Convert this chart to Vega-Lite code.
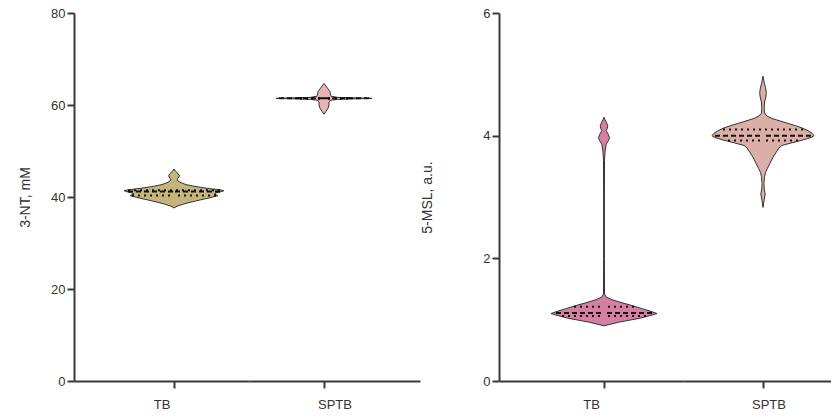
{
  "$schema": "https://vega.github.io/schema/vega-lite/v6.json",
  "padding": {"left": 18, "top": 7, "right": 0, "bottom": 0},
  "config": {
    "view": {"stroke": null},
    "font": "Liberation Sans",
    "axis": {"domainColor": "#3a3a3a", "domainWidth": 2, "tickColor": "#3a3a3a", "tickWidth": 2, "tickSize": 7, "labelFontSize": 13, "labelColor": "#333", "titleFontSize": 14, "titleFontWeight": "normal", "titleColor": "#333", "grid": false}
  },
  "datasets": {
    "shapes": [
      {"panel": "L", "group": "TB", "value": 37.6, "density": 0},
      {"panel": "L", "group": "TB", "value": 38.0, "density": 3},
      {"panel": "L", "group": "TB", "value": 38.5, "density": 10},
      {"panel": "L", "group": "TB", "value": 39.0, "density": 19},
      {"panel": "L", "group": "TB", "value": 39.5, "density": 29},
      {"panel": "L", "group": "TB", "value": 39.9, "density": 37},
      {"panel": "L", "group": "TB", "value": 40.3, "density": 44},
      {"panel": "L", "group": "TB", "value": 40.65, "density": 40},
      {"panel": "L", "group": "TB", "value": 40.95, "density": 43},
      {"panel": "L", "group": "TB", "value": 41.2, "density": 48},
      {"panel": "L", "group": "TB", "value": 41.4, "density": 50},
      {"panel": "L", "group": "TB", "value": 41.6, "density": 44},
      {"panel": "L", "group": "TB", "value": 41.9, "density": 33},
      {"panel": "L", "group": "TB", "value": 42.3, "density": 21},
      {"panel": "L", "group": "TB", "value": 42.7, "density": 12},
      {"panel": "L", "group": "TB", "value": 43.2, "density": 6},
      {"panel": "L", "group": "TB", "value": 43.7, "density": 3},
      {"panel": "L", "group": "TB", "value": 44.1, "density": 4},
      {"panel": "L", "group": "TB", "value": 44.6, "density": 5.5},
      {"panel": "L", "group": "TB", "value": 45.1, "density": 4},
      {"panel": "L", "group": "TB", "value": 45.6, "density": 1.5},
      {"panel": "L", "group": "TB", "value": 46.1, "density": 0},
      {"panel": "L", "group": "SPTB", "value": 58.0, "density": 0},
      {"panel": "L", "group": "SPTB", "value": 58.6, "density": 2},
      {"panel": "L", "group": "SPTB", "value": 59.3, "density": 4},
      {"panel": "L", "group": "SPTB", "value": 60.0, "density": 5},
      {"panel": "L", "group": "SPTB", "value": 60.6, "density": 5},
      {"panel": "L", "group": "SPTB", "value": 61.0, "density": 6},
      {"panel": "L", "group": "SPTB", "value": 61.25, "density": 14},
      {"panel": "L", "group": "SPTB", "value": 61.45, "density": 48},
      {"panel": "L", "group": "SPTB", "value": 61.65, "density": 14},
      {"panel": "L", "group": "SPTB", "value": 61.9, "density": 7},
      {"panel": "L", "group": "SPTB", "value": 62.4, "density": 6.5},
      {"panel": "L", "group": "SPTB", "value": 62.9, "density": 6},
      {"panel": "L", "group": "SPTB", "value": 63.5, "density": 4},
      {"panel": "L", "group": "SPTB", "value": 64.1, "density": 2},
      {"panel": "L", "group": "SPTB", "value": 64.7, "density": 0},
      {"panel": "R", "group": "TB", "value": 0.90, "density": 0},
      {"panel": "R", "group": "TB", "value": 0.96, "density": 15},
      {"panel": "R", "group": "TB", "value": 1.02, "density": 35},
      {"panel": "R", "group": "TB", "value": 1.07, "density": 47},
      {"panel": "R", "group": "TB", "value": 1.10, "density": 53},
      {"panel": "R", "group": "TB", "value": 1.14, "density": 46},
      {"panel": "R", "group": "TB", "value": 1.18, "density": 38},
      {"panel": "R", "group": "TB", "value": 1.23, "density": 28},
      {"panel": "R", "group": "TB", "value": 1.28, "density": 17},
      {"panel": "R", "group": "TB", "value": 1.32, "density": 9},
      {"panel": "R", "group": "TB", "value": 1.37, "density": 2},
      {"panel": "R", "group": "TB", "value": 1.42, "density": 0.5},
      {"panel": "R", "group": "TB", "value": 2.0, "density": 0.4},
      {"panel": "R", "group": "TB", "value": 3.0, "density": 0.4},
      {"panel": "R", "group": "TB", "value": 3.6, "density": 0.5},
      {"panel": "R", "group": "TB", "value": 3.75, "density": 1.1},
      {"panel": "R", "group": "TB", "value": 3.86, "density": 2.2},
      {"panel": "R", "group": "TB", "value": 3.92, "density": 4.5},
      {"panel": "R", "group": "TB", "value": 3.97, "density": 5.5},
      {"panel": "R", "group": "TB", "value": 4.03, "density": 4},
      {"panel": "R", "group": "TB", "value": 4.08, "density": 2.2},
      {"panel": "R", "group": "TB", "value": 4.12, "density": 3.3},
      {"panel": "R", "group": "TB", "value": 4.16, "density": 3.8},
      {"panel": "R", "group": "TB", "value": 4.21, "density": 2.6},
      {"panel": "R", "group": "TB", "value": 4.26, "density": 1},
      {"panel": "R", "group": "TB", "value": 4.30, "density": 0},
      {"panel": "R", "group": "SPTB", "value": 2.83, "density": 0},
      {"panel": "R", "group": "SPTB", "value": 2.94, "density": 1},
      {"panel": "R", "group": "SPTB", "value": 3.05, "density": 2.2},
      {"panel": "R", "group": "SPTB", "value": 3.13, "density": 1.2},
      {"panel": "R", "group": "SPTB", "value": 3.22, "density": 1},
      {"panel": "R", "group": "SPTB", "value": 3.33, "density": 1.5},
      {"panel": "R", "group": "SPTB", "value": 3.40, "density": 2.5},
      {"panel": "R", "group": "SPTB", "value": 3.47, "density": 4.5},
      {"panel": "R", "group": "SPTB", "value": 3.55, "density": 7},
      {"panel": "R", "group": "SPTB", "value": 3.65, "density": 10},
      {"panel": "R", "group": "SPTB", "value": 3.75, "density": 14},
      {"panel": "R", "group": "SPTB", "value": 3.80, "density": 16},
      {"panel": "R", "group": "SPTB", "value": 3.84, "density": 19},
      {"panel": "R", "group": "SPTB", "value": 3.88, "density": 28},
      {"panel": "R", "group": "SPTB", "value": 3.93, "density": 40},
      {"panel": "R", "group": "SPTB", "value": 3.97, "density": 48},
      {"panel": "R", "group": "SPTB", "value": 4.00, "density": 51},
      {"panel": "R", "group": "SPTB", "value": 4.04, "density": 49},
      {"panel": "R", "group": "SPTB", "value": 4.08, "density": 45},
      {"panel": "R", "group": "SPTB", "value": 4.12, "density": 40},
      {"panel": "R", "group": "SPTB", "value": 4.16, "density": 33},
      {"panel": "R", "group": "SPTB", "value": 4.20, "density": 25},
      {"panel": "R", "group": "SPTB", "value": 4.24, "density": 17},
      {"panel": "R", "group": "SPTB", "value": 4.28, "density": 9},
      {"panel": "R", "group": "SPTB", "value": 4.32, "density": 4},
      {"panel": "R", "group": "SPTB", "value": 4.37, "density": 1.5},
      {"panel": "R", "group": "SPTB", "value": 4.46, "density": 1.2},
      {"panel": "R", "group": "SPTB", "value": 4.55, "density": 1.6},
      {"panel": "R", "group": "SPTB", "value": 4.63, "density": 2.8},
      {"panel": "R", "group": "SPTB", "value": 4.70, "density": 3.3},
      {"panel": "R", "group": "SPTB", "value": 4.78, "density": 2.6},
      {"panel": "R", "group": "SPTB", "value": 4.86, "density": 1.3},
      {"panel": "R", "group": "SPTB", "value": 4.97, "density": 0}
    ],
    "stats": [
      {"panel": "L", "group": "TB", "stat": "median", "value": 41.2, "density": 46},
      {"panel": "L", "group": "TB", "stat": "quartile", "value": 41.45, "density": 46},
      {"panel": "L", "group": "TB", "stat": "quartile", "value": 40.3, "density": 42},
      {"panel": "L", "group": "SPTB", "stat": "median", "value": 61.45, "density": 45},
      {"panel": "L", "group": "SPTB", "stat": "quartile", "value": 61.38, "density": 24},
      {"panel": "L", "group": "SPTB", "stat": "quartile", "value": 61.52, "density": 24},
      {"panel": "R", "group": "TB", "stat": "median", "value": 1.11, "density": 48},
      {"panel": "R", "group": "TB", "stat": "quartile", "value": 1.21, "density": 30},
      {"panel": "R", "group": "TB", "stat": "quartile", "value": 1.06, "density": 42},
      {"panel": "R", "group": "SPTB", "stat": "median", "value": 4.0, "density": 48},
      {"panel": "R", "group": "SPTB", "stat": "quartile", "value": 4.10, "density": 40},
      {"panel": "R", "group": "SPTB", "stat": "quartile", "value": 3.92, "density": 35}
    ]
  },
  "spacing": 0,
  "hconcat": [
    {
      "spacing": 0,
      "hconcat": [
        {
          "width": 175, "height": 368,
          "encoding": {"y": {"field": "value", "type": "quantitative", "scale": {"domain": [0, 80]}, "axis": {"values": [0, 20, 40, 60, 80], "title": "3-NT, mM", "titlePadding": 18}}},
          "layer": [
            {"data": {"name": "shapes"}, "transform": [{"filter": "datum.panel == 'L' && datum.group == 'TB'"}],
             "mark": {"type": "area", "orient": "horizontal", "color": "#c4b57d"},
             "encoding": {"x": {"field": "density", "type": "quantitative", "scale": {"domain": [-100, 75]}, "axis": {"values": [0], "labels": false, "title": "TB", "titleFontSize": 13, "titlePadding": 9}}, "x2": {"datum": 0}}},
            {"data": {"name": "shapes"}, "transform": [{"filter": "datum.panel == 'L' && datum.group == 'TB'"}],
             "mark": {"type": "area", "orient": "horizontal", "color": "#c4b57d"},
             "encoding": {"x": {"field": "density", "type": "quantitative", "scale": {"domain": [-75, 100], "reverse": true}, "axis": null}, "x2": {"datum": 0}}},
            {"data": {"name": "shapes"}, "transform": [{"filter": "datum.panel == 'L' && datum.group == 'TB'"}],
             "mark": {"type": "line", "color": "#333", "strokeWidth": 1},
             "encoding": {"x": {"field": "density", "type": "quantitative", "scale": {"domain": [-100, 75]}, "axis": null}, "order": {"field": "value", "type": "quantitative"}}},
            {"data": {"name": "shapes"}, "transform": [{"filter": "datum.panel == 'L' && datum.group == 'TB'"}],
             "mark": {"type": "line", "color": "#333", "strokeWidth": 1},
             "encoding": {"x": {"field": "density", "type": "quantitative", "scale": {"domain": [-75, 100], "reverse": true}, "axis": null}, "order": {"field": "value", "type": "quantitative"}}},
            {"data": {"name": "stats"}, "transform": [{"filter": "datum.panel == 'L' && datum.group == 'TB'"}],
             "mark": {"type": "rule", "color": "#111", "strokeWidth": 2},
             "encoding": {"x": {"field": "density", "type": "quantitative", "scale": {"domain": [-100, 75]}, "axis": null}, "x2": {"datum": 0},
               "strokeDash": {"field": "stat", "type": "nominal", "scale": {"domain": ["median", "quartile"], "range": [[5, 3], [2, 4]]}, "legend": null}}},
            {"data": {"name": "stats"}, "transform": [{"filter": "datum.panel == 'L' && datum.group == 'TB'"}],
             "mark": {"type": "rule", "color": "#111", "strokeWidth": 2},
             "encoding": {"x": {"field": "density", "type": "quantitative", "scale": {"domain": [-75, 100], "reverse": true}, "axis": null}, "x2": {"datum": 0},
               "strokeDash": {"field": "stat", "type": "nominal", "scale": {"domain": ["median", "quartile"], "range": [[5, 3], [2, 4]]}, "legend": null}}}
          ],
          "resolve": {"scale": {"x": "independent"}, "axis": {"x": "independent"}}
        },
        {
          "width": 171, "height": 368,
          "encoding": {"y": {"field": "value", "type": "quantitative", "scale": {"domain": [0, 80]}, "axis": null}},
          "layer": [
            {"data": {"name": "shapes"}, "transform": [{"filter": "datum.panel == 'L' && datum.group == 'SPTB'"}],
             "mark": {"type": "area", "orient": "horizontal", "color": "#e6b5b4"},
             "encoding": {"x": {"field": "density", "type": "quantitative", "scale": {"domain": [-75, 96]}, "axis": {"values": [0], "labels": false, "title": "SPTB", "titleFontSize": 13, "titlePadding": 9}}, "x2": {"datum": 0}}},
            {"data": {"name": "shapes"}, "transform": [{"filter": "datum.panel == 'L' && datum.group == 'SPTB'"}],
             "mark": {"type": "area", "orient": "horizontal", "color": "#e6b5b4"},
             "encoding": {"x": {"field": "density", "type": "quantitative", "scale": {"domain": [-96, 75], "reverse": true}, "axis": null}, "x2": {"datum": 0}}},
            {"data": {"name": "shapes"}, "transform": [{"filter": "datum.panel == 'L' && datum.group == 'SPTB'"}],
             "mark": {"type": "line", "color": "#333", "strokeWidth": 1},
             "encoding": {"x": {"field": "density", "type": "quantitative", "scale": {"domain": [-75, 96]}, "axis": null}, "order": {"field": "value", "type": "quantitative"}}},
            {"data": {"name": "shapes"}, "transform": [{"filter": "datum.panel == 'L' && datum.group == 'SPTB'"}],
             "mark": {"type": "line", "color": "#333", "strokeWidth": 1},
             "encoding": {"x": {"field": "density", "type": "quantitative", "scale": {"domain": [-96, 75], "reverse": true}, "axis": null}, "order": {"field": "value", "type": "quantitative"}}},
            {"data": {"name": "stats"}, "transform": [{"filter": "datum.panel == 'L' && datum.group == 'SPTB'"}],
             "mark": {"type": "rule", "color": "#111", "strokeWidth": 2},
             "encoding": {"x": {"field": "density", "type": "quantitative", "scale": {"domain": [-75, 96]}, "axis": null}, "x2": {"datum": 0},
               "strokeDash": {"field": "stat", "type": "nominal", "scale": {"domain": ["median", "quartile"], "range": [[5, 3], [2, 4]]}, "legend": null}}},
            {"data": {"name": "stats"}, "transform": [{"filter": "datum.panel == 'L' && datum.group == 'SPTB'"}],
             "mark": {"type": "rule", "color": "#111", "strokeWidth": 2},
             "encoding": {"x": {"field": "density", "type": "quantitative", "scale": {"domain": [-96, 75], "reverse": true}, "axis": null}, "x2": {"datum": 0},
               "strokeDash": {"field": "stat", "type": "nominal", "scale": {"domain": ["median", "quartile"], "range": [[5, 3], [2, 4]]}, "legend": null}}}
          ],
          "resolve": {"scale": {"x": "independent"}, "axis": {"x": "independent"}}
        }
      ]
    },
    {
      "spacing": 0,
      "hconcat": [
        {
          "width": 184, "height": 368,
          "encoding": {"y": {"field": "value", "type": "quantitative", "scale": {"domain": [0, 6]}, "axis": {"values": [0, 2, 4, 6], "title": "5-MSL, a.u.", "titlePadding": 48}}},
          "layer": [
            {"data": {"name": "shapes"}, "transform": [{"filter": "datum.panel == 'R' && datum.group == 'TB'"}],
             "mark": {"type": "area", "orient": "horizontal", "color": "#d67fa3"},
             "encoding": {"x": {"field": "density", "type": "quantitative", "scale": {"domain": [-105, 79]}, "axis": {"values": [0], "labels": false, "title": "TB", "titleFontSize": 13, "titlePadding": 9}}, "x2": {"datum": 0}}},
            {"data": {"name": "shapes"}, "transform": [{"filter": "datum.panel == 'R' && datum.group == 'TB'"}],
             "mark": {"type": "area", "orient": "horizontal", "color": "#d67fa3"},
             "encoding": {"x": {"field": "density", "type": "quantitative", "scale": {"domain": [-79, 105], "reverse": true}, "axis": null}, "x2": {"datum": 0}}},
            {"data": {"name": "shapes"}, "transform": [{"filter": "datum.panel == 'R' && datum.group == 'TB'"}],
             "mark": {"type": "line", "color": "#333", "strokeWidth": 1},
             "encoding": {"x": {"field": "density", "type": "quantitative", "scale": {"domain": [-105, 79]}, "axis": null}, "order": {"field": "value", "type": "quantitative"}}},
            {"data": {"name": "shapes"}, "transform": [{"filter": "datum.panel == 'R' && datum.group == 'TB'"}],
             "mark": {"type": "line", "color": "#333", "strokeWidth": 1},
             "encoding": {"x": {"field": "density", "type": "quantitative", "scale": {"domain": [-79, 105], "reverse": true}, "axis": null}, "order": {"field": "value", "type": "quantitative"}}},
            {"data": {"name": "stats"}, "transform": [{"filter": "datum.panel == 'R' && datum.group == 'TB'"}],
             "mark": {"type": "rule", "color": "#111", "strokeWidth": 2},
             "encoding": {"x": {"field": "density", "type": "quantitative", "scale": {"domain": [-105, 79]}, "axis": null}, "x2": {"datum": 0},
               "strokeDash": {"field": "stat", "type": "nominal", "scale": {"domain": ["median", "quartile"], "range": [[5, 3], [2, 4]]}, "legend": null}}},
            {"data": {"name": "stats"}, "transform": [{"filter": "datum.panel == 'R' && datum.group == 'TB'"}],
             "mark": {"type": "rule", "color": "#111", "strokeWidth": 2},
             "encoding": {"x": {"field": "density", "type": "quantitative", "scale": {"domain": [-79, 105], "reverse": true}, "axis": null}, "x2": {"datum": 0},
               "strokeDash": {"field": "stat", "type": "nominal", "scale": {"domain": ["median", "quartile"], "range": [[5, 3], [2, 4]]}, "legend": null}}}
          ],
          "resolve": {"scale": {"x": "independent"}, "axis": {"x": "independent"}}
        },
        {
          "width": 171, "height": 368,
          "encoding": {"y": {"field": "value", "type": "quantitative", "scale": {"domain": [0, 6]}, "axis": null}},
          "layer": [
            {"data": {"name": "shapes"}, "transform": [{"filter": "datum.panel == 'R' && datum.group == 'SPTB'"}],
             "mark": {"type": "area", "orient": "horizontal", "color": "#dcaea8"},
             "encoding": {"x": {"field": "density", "type": "quantitative", "scale": {"domain": [-80, 91]}, "axis": {"values": [0], "labels": false, "title": "SPTB", "titleFontSize": 13, "titlePadding": 9}}, "x2": {"datum": 0}}},
            {"data": {"name": "shapes"}, "transform": [{"filter": "datum.panel == 'R' && datum.group == 'SPTB'"}],
             "mark": {"type": "area", "orient": "horizontal", "color": "#dcaea8"},
             "encoding": {"x": {"field": "density", "type": "quantitative", "scale": {"domain": [-91, 80], "reverse": true}, "axis": null}, "x2": {"datum": 0}}},
            {"data": {"name": "shapes"}, "transform": [{"filter": "datum.panel == 'R' && datum.group == 'SPTB'"}],
             "mark": {"type": "line", "color": "#333", "strokeWidth": 1},
             "encoding": {"x": {"field": "density", "type": "quantitative", "scale": {"domain": [-80, 91]}, "axis": null}, "order": {"field": "value", "type": "quantitative"}}},
            {"data": {"name": "shapes"}, "transform": [{"filter": "datum.panel == 'R' && datum.group == 'SPTB'"}],
             "mark": {"type": "line", "color": "#333", "strokeWidth": 1},
             "encoding": {"x": {"field": "density", "type": "quantitative", "scale": {"domain": [-91, 80], "reverse": true}, "axis": null}, "order": {"field": "value", "type": "quantitative"}}},
            {"data": {"name": "stats"}, "transform": [{"filter": "datum.panel == 'R' && datum.group == 'SPTB'"}],
             "mark": {"type": "rule", "color": "#111", "strokeWidth": 2},
             "encoding": {"x": {"field": "density", "type": "quantitative", "scale": {"domain": [-80, 91]}, "axis": null}, "x2": {"datum": 0},
               "strokeDash": {"field": "stat", "type": "nominal", "scale": {"domain": ["median", "quartile"], "range": [[5, 3], [2, 4]]}, "legend": null}}},
            {"data": {"name": "stats"}, "transform": [{"filter": "datum.panel == 'R' && datum.group == 'SPTB'"}],
             "mark": {"type": "rule", "color": "#111", "strokeWidth": 2},
             "encoding": {"x": {"field": "density", "type": "quantitative", "scale": {"domain": [-91, 80], "reverse": true}, "axis": null}, "x2": {"datum": 0},
               "strokeDash": {"field": "stat", "type": "nominal", "scale": {"domain": ["median", "quartile"], "range": [[5, 3], [2, 4]]}, "legend": null}}}
          ],
          "resolve": {"scale": {"x": "independent"}, "axis": {"x": "independent"}}
        }
      ]
    }
  ]
}
